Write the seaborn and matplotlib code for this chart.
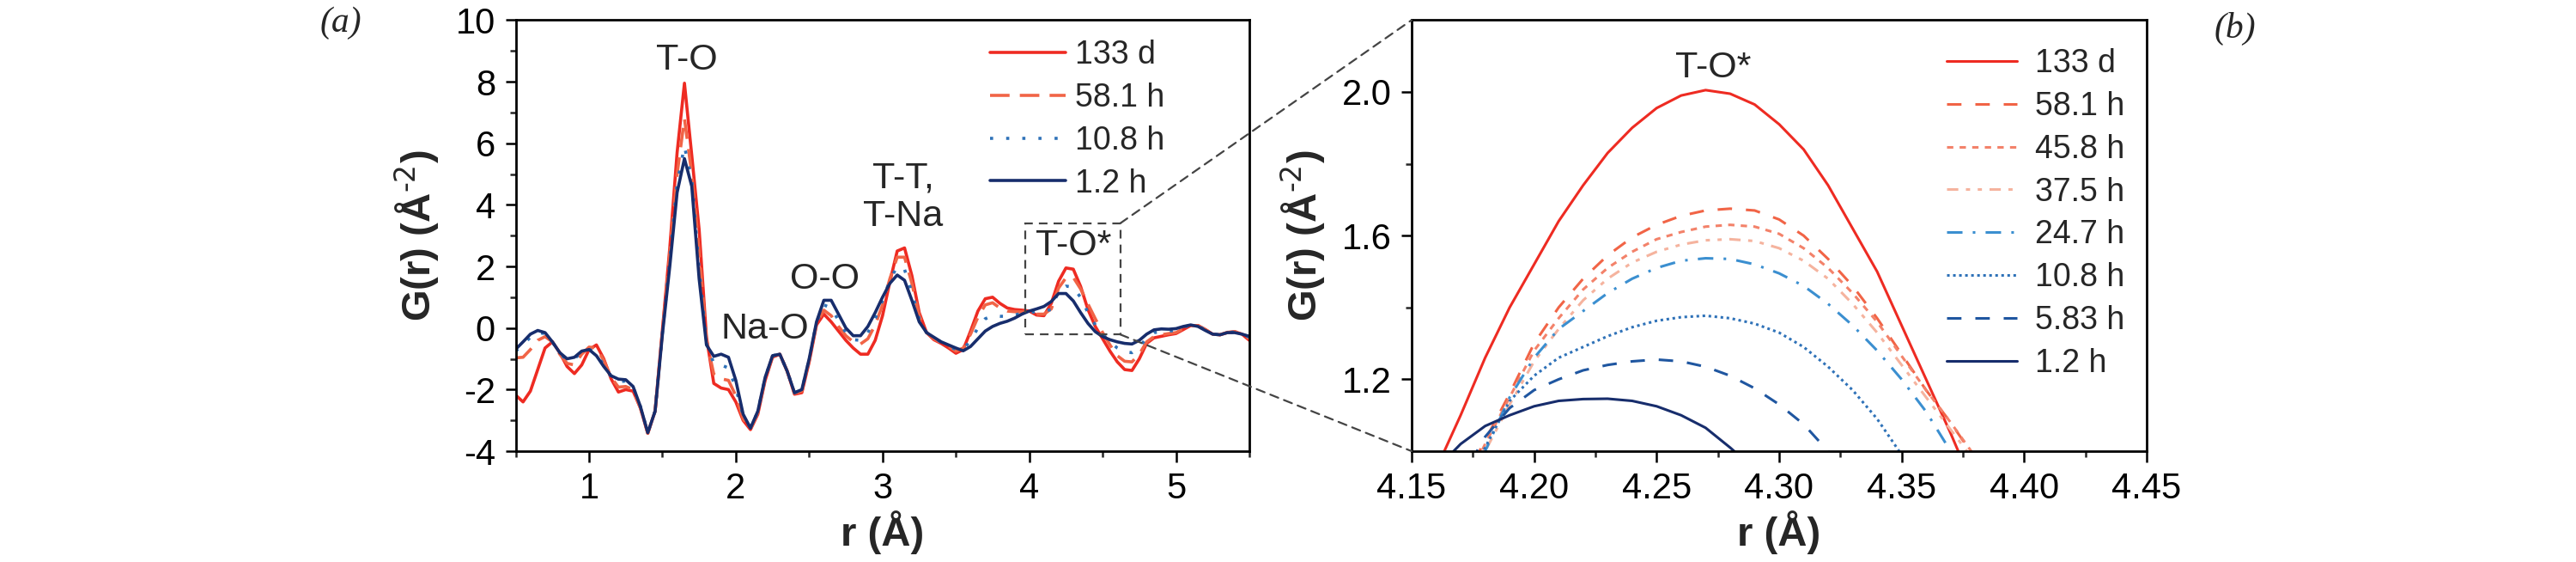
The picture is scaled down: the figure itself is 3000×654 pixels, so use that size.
import numpy as np
import pandas as pd
import matplotlib
matplotlib.use("Agg")
import matplotlib.pyplot as plt
from matplotlib.patches import Rectangle, ConnectionPatch
from matplotlib.ticker import FixedLocator
import seaborn as sns

# ---- panel (a): full PDF ----
r_full = np.round(np.arange(0.5, 5.5001, 0.05), 2)

g_133d = [-2.18, -2.40, -2.05, -1.35, -0.65, -0.45, -0.80, -1.25, -1.48, -1.20,
          -0.70, -0.55, -1.00, -1.65, -2.08, -2.00, -2.05, -2.60, -3.42, -2.70,
          -0.05, 2.60, 5.70, 7.95, 5.60, 3.20, -0.30, -1.80, -1.95, -2.00,
          -2.40, -3.00, -3.30, -2.80, -1.70, -0.95, -0.85, -1.40, -2.15, -2.10,
          -1.10, 0.10, 0.45, 0.20, -0.10, -0.40, -0.65, -0.85, -0.85, -0.40,
          0.40, 1.50, 2.50, 2.60, 1.70, 0.50, -0.15, -0.38, -0.50, -0.65,
          -0.82, -0.70, -0.10, 0.55, 0.95, 1.00, 0.80, 0.65, 0.60, 0.58,
          0.55, 0.42, 0.40, 0.80, 1.52, 1.95, 1.91, 1.35, 0.60, 0.05,
          -0.35, -0.75, -1.10, -1.35, -1.38, -1.00, -0.50, -0.32, -0.27, -0.22,
          -0.18, -0.05, 0.08, 0.08, -0.05, -0.20, -0.22, -0.15, -0.12, -0.20,
          -0.40]

g_58h = [-0.97, -0.95, -0.70, -0.40, -0.28, -0.45, -0.85, -1.15, -1.20, -0.85,
         -0.62, -0.65, -1.05, -1.60, -1.92, -1.90, -2.00, -2.60, -3.42, -2.70,
         -0.10, 2.40, 5.00, 6.80, 5.00, 2.50, -0.40, -1.50, -1.65, -1.70,
         -2.20, -2.95, -3.28, -2.75, -1.65, -0.92, -0.85, -1.40, -2.12, -2.05,
         -1.05, 0.15, 0.58, 0.40, 0.05, -0.25, -0.45, -0.52, -0.35, 0.10,
         0.75, 1.60, 2.30, 2.30, 1.45, 0.40, -0.15, -0.35, -0.48, -0.60,
         -0.75, -0.65, -0.20, 0.35, 0.75, 0.82, 0.65, 0.55, 0.53, 0.52,
         0.52, 0.45, 0.45, 0.62, 1.30, 1.63, 1.645, 1.27, 0.78, 0.30,
         -0.15, -0.55, -0.90, -1.08, -1.10, -0.85, -0.45, -0.28, -0.22, -0.18,
         -0.15, -0.02, 0.08, 0.08, -0.05, -0.20, -0.22, -0.14, -0.12, -0.18,
         -0.35]

g_10h = [-0.75, -0.55, -0.30, -0.15, -0.18, -0.45, -0.82, -1.05, -1.00, -0.78,
         -0.68, -0.85, -1.20, -1.58, -1.75, -1.72, -1.92, -2.55, -3.40, -2.70,
         -0.15, 2.20, 4.70, 5.90, 4.80, 1.90, -0.50, -1.15, -1.20, -1.30,
         -1.95, -2.85, -3.25, -2.72, -1.62, -0.90, -0.85, -1.40, -2.10, -2.02,
         -1.02, 0.18, 0.75, 0.65, 0.25, -0.15, -0.38, -0.40, -0.15, 0.30,
         0.90, 1.55, 2.00, 1.90, 1.15, 0.30, -0.15, -0.32, -0.46, -0.58,
         -0.70, -0.70, -0.40, 0.00, 0.30, 0.40, 0.38, 0.38, 0.42, 0.48,
         0.52, 0.52, 0.55, 0.60, 1.21, 1.36, 1.33, 0.99, 0.50, 0.10,
         -0.20, -0.45, -0.65, -0.78, -0.80, -0.62, -0.32, -0.15, -0.12, -0.10,
         -0.08, 0.02, 0.10, 0.06, -0.06, -0.20, -0.22, -0.15, -0.13, -0.19,
         -0.30]

g_1h = [-0.69, -0.45, -0.20, -0.08, -0.15, -0.45, -0.80, -1.00, -0.95, -0.75,
        -0.70, -0.90, -1.25, -1.55, -1.66, -1.68, -1.90, -2.55, -3.40, -2.70,
        -0.20, 2.00, 4.40, 5.50, 4.60, 1.60, -0.55, -0.92, -0.85, -0.95,
        -1.70, -2.80, -3.25, -2.70, -1.60, -0.90, -0.85, -1.40, -2.10, -2.00,
        -1.00, 0.20, 0.90, 0.90, 0.45, 0.00, -0.25, -0.25, 0.05, 0.50,
        1.00, 1.45, 1.72, 1.55, 0.90, 0.20, -0.15, -0.30, -0.45, -0.55,
        -0.65, -0.74, -0.60, -0.35, -0.10, 0.05, 0.15, 0.22, 0.32, 0.45,
        0.55, 0.62, 0.70, 0.86, 1.12, 1.12, 0.88, 0.50, 0.15, -0.12,
        -0.28, -0.38, -0.45, -0.50, -0.52, -0.40, -0.20, -0.06, -0.03, -0.04,
        -0.02, 0.05, 0.10, 0.05, -0.08, -0.20, -0.22, -0.15, -0.15, -0.20,
        -0.27]

labels_a = ["133 d", "58.1 h", "10.8 h", "1.2 h"]

# ---- panel (b): zoom on the T-O* peak ----
r_zoom = np.round(np.arange(4.15, 4.4501, 0.01), 2)

z_133d = [0.80, 0.95, 1.10, 1.26, 1.40, 1.52, 1.64, 1.74, 1.83, 1.90, 1.955,
          1.99, 2.005, 1.995, 1.965, 1.91, 1.84, 1.74, 1.62, 1.50, 1.35,
          1.20, 1.05, 0.89, 0.74, 0.60, 0.47, 0.35, 0.24, 0.14, 0.05]
z_58h = [0.62, 0.76, 0.90, 1.03, 1.16, 1.30, 1.40, 1.48, 1.545, 1.595, 1.63,
         1.655, 1.67, 1.675, 1.67, 1.645, 1.60, 1.535, 1.46, 1.37, 1.27,
         1.17, 1.08, 0.98, 0.88, 0.78, 0.68, 0.58, 0.49, 0.40, 0.32]
z_45h = [0.60, 0.74, 0.88, 1.02, 1.15, 1.28, 1.37, 1.45, 1.51, 1.555, 1.59,
         1.61, 1.625, 1.63, 1.625, 1.605, 1.565, 1.51, 1.44, 1.36, 1.265,
         1.17, 1.08, 0.985, 0.89, 0.79, 0.69, 0.60, 0.51, 0.42, 0.34]
z_37h = [0.58, 0.72, 0.86, 1.00, 1.13, 1.25, 1.34, 1.42, 1.48, 1.525, 1.555,
         1.575, 1.587, 1.59, 1.585, 1.565, 1.53, 1.48, 1.41, 1.33, 1.24,
         1.15, 1.06, 0.97, 0.87, 0.77, 0.67, 0.58, 0.49, 0.40, 0.32]
z_24h = [0.55, 0.70, 0.85, 1.00, 1.15, 1.26, 1.34, 1.39, 1.44, 1.48, 1.51,
         1.53, 1.537, 1.535, 1.52, 1.495, 1.46, 1.41, 1.35, 1.28, 1.20,
         1.11, 1.00, 0.89, 0.78, 0.67, 0.57, 0.47, 0.38, 0.30, 0.22]
z_10h = [0.60, 0.74, 0.88, 1.01, 1.14, 1.21, 1.26, 1.29, 1.32, 1.345, 1.363,
         1.373, 1.377, 1.37, 1.355, 1.33, 1.29, 1.235, 1.17, 1.09, 0.99,
         0.89, 0.79, 0.69, 0.59, 0.50, 0.41, 0.33, 0.26, 0.19, 0.13]
z_5h = [0.65, 0.79, 0.92, 1.04, 1.12, 1.17, 1.20, 1.225, 1.24, 1.25, 1.255,
        1.25, 1.235, 1.21, 1.175, 1.13, 1.075, 1.00, 0.92, 0.84, 0.76,
        0.68, 0.60, 0.52, 0.45, 0.38, 0.31, 0.25, 0.19, 0.14, 0.09]
z_1h = [0.86, 0.95, 1.02, 1.07, 1.10, 1.125, 1.14, 1.145, 1.146, 1.14, 1.125,
        1.10, 1.065, 1.01, 0.95, 0.88, 0.81, 0.73, 0.65, 0.57, 0.50,
        0.42, 0.35, 0.28, 0.21, 0.15, 0.09, 0.04, -0.01, -0.05, -0.09]

labels_b = ["133 d", "58.1 h", "45.8 h", "37.5 h", "24.7 h", "10.8 h", "5.83 h", "1.2 h"]

# zoom box drawn on panel (a)
box_r = (3.97, 4.62)
box_g = (-0.21, 3.40)

# ---- styles ----
palette = {
    "133 d": "#ee2b22",
    "58.1 h": "#f16446",
    "45.8 h": "#f3826a",
    "37.5 h": "#f5b39e",
    "24.7 h": "#3b8fd0",
    "10.8 h": "#2f72b8",
    "5.83 h": "#1f56a0",
    "1.2 h": "#172d6c",
}
dashes_a = {
    "133 d": "",
    "58.1 h": (6.3, 3.3),
    "10.8 h": (1, 4.2),
    "1.2 h": "",
}
dashes_b = {
    "133 d": "",
    "58.1 h": (5.5, 5.3),
    "45.8 h": (2.4, 2.4),
    "37.5 h": (4.3, 2.9, 1.6, 2.9, 1.6, 2.9),
    "24.7 h": (5.9, 3.9, 1.0, 3.9),
    "10.8 h": (1.0, 1.3),
    "5.83 h": (5.5, 5.3),
    "1.2 h": "",
}

sns.set_theme(style="ticks")
plt.rcParams["font.family"] = ["Liberation Sans", "DejaVu Sans"]
plt.rcParams["mathtext.default"] = "regular"
plt.rcParams["axes.unicode_minus"] = False

fig = plt.figure(figsize=(15, 3.27), dpi=200)
ax1 = fig.add_axes([0.2002, 0.1972, 0.2848, 0.7671])
ax2 = fig.add_axes([0.548, 0.1972, 0.2853, 0.7671])

df_a = pd.DataFrame({
    "r": np.tile(r_full, 4),
    "G": np.concatenate([g_133d, g_58h, g_10h, g_1h]),
    "sample": np.repeat(labels_a, len(r_full)),
})
df_b = pd.DataFrame({
    "r": np.tile(r_zoom, 8),
    "G": np.concatenate([z_133d, z_58h, z_45h, z_37h, z_24h, z_10h, z_5h, z_1h]),
    "sample": np.repeat(labels_b, len(r_zoom)),
})

sns.lineplot(data=df_a, x="r", y="G", hue="sample", style="sample",
             hue_order=labels_a, style_order=labels_a,
             palette={k: palette[k] for k in labels_a}, dashes=dashes_a,
             estimator=None, sort=False, linewidth=1.3, ax=ax1)
sns.lineplot(data=df_b, x="r", y="G", hue="sample", style="sample",
             hue_order=labels_b, style_order=labels_b,
             palette=palette, dashes=dashes_b,
             estimator=None, sort=False, linewidth=1.1, ax=ax2)

legend_opts = [
    (ax1, (0.646, 0.955), 2.35, 0.3),
    (ax2, (0.7275, 0.935), 2.2, 0.55),
]
for ax, anchor, hlen, tpad in legend_opts:
    leg = ax.get_legend()
    handles = leg.legend_handles
    labels = [t.get_text() for t in leg.get_texts()]
    leg.remove()
    ax.legend(handles, labels, loc="upper left", bbox_to_anchor=anchor,
              frameon=False, borderaxespad=0, borderpad=0, fontsize=13.5,
              handlelength=hlen, handletextpad=tpad, labelspacing=0.37)

# axes limits and ticks
ax1.set_xlim(0.5, 5.5)
ax1.set_ylim(-4, 10)
ax1.xaxis.set_major_locator(FixedLocator([1, 2, 3, 4, 5]))
ax1.xaxis.set_minor_locator(FixedLocator([0.5, 1.5, 2.5, 3.5, 4.5, 5.5]))
ax1.yaxis.set_major_locator(FixedLocator(np.arange(-4, 11, 2)))
ax1.yaxis.set_minor_locator(FixedLocator(np.arange(-3, 10, 2)))

ax2.set_xlim(4.15, 4.45)
ax2.set_ylim(1.0, 2.2)
ax2.xaxis.set_major_locator(FixedLocator(np.round(np.arange(4.15, 4.4501, 0.05), 2)))
ax2.xaxis.set_minor_locator(FixedLocator(np.round(np.arange(4.175, 4.45, 0.05), 3)))
ax2.yaxis.set_major_locator(FixedLocator([1.2, 1.6, 2.0]))
ax2.yaxis.set_minor_locator(FixedLocator([1.4, 1.8]))
ax2.xaxis.set_major_formatter(plt.FormatStrFormatter("%.2f"))
ax2.yaxis.set_major_formatter(plt.FormatStrFormatter("%.1f"))

for ax in (ax1, ax2):
    for s in ax.spines.values():
        s.set_linewidth(1.0)
        s.set_color("black")
    ax.tick_params(which="major", direction="out", length=4.5, width=0.9,
                   labelsize=15, pad=4, colors="black")
    ax.tick_params(which="minor", direction="out", length=2.6, width=0.9)
    ax.set_xlabel("r (Å)", fontsize=17, fontweight="bold", labelpad=2)
    ax.set_ylabel(r"G(r) (Å$^{\text{-2}}$)", fontsize=17, fontweight="bold", labelpad=6)

# peak annotations
ax1.text(1.664, 8.69, "T-O", ha="center", va="center", fontsize=15.5)
ax1.text(2.20, -0.04, "Na-O", ha="center", va="center", fontsize=15.5)
ax1.text(2.605, 1.585, "O-O", ha="center", va="center", fontsize=15.5)
ax1.text(3.14, 4.25, "T-T,\nT-Na", ha="center", va="center", fontsize=15.5,
         linespacing=1.15)
ax1.text(4.30, 2.68, "T-O*", ha="center", va="center", fontsize=15.5)
ax2.text(4.273, 2.067, "T-O*", ha="center", va="center", fontsize=15.5)

# zoom box and connectors
ax1.add_patch(Rectangle((box_r[0], box_g[0]), box_r[1] - box_r[0], box_g[1] - box_g[0],
                        fill=False, edgecolor="#444444", linewidth=0.8,
                        linestyle=(0, (4.5, 3.2)), zorder=5))
for yb, ya in [(box_g[1], 1), (box_g[0], 0)]:
    con = ConnectionPatch(xyA=(box_r[1], yb), coordsA=ax1.transData,
                          xyB=(0, ya), coordsB=ax2.transAxes,
                          color="#444444", linewidth=0.8, linestyle=(0, (4.5, 3.2)))
    fig.add_artist(con)

fig.text(0.1322, 0.959, "(a)", ha="center", va="center", fontsize=15,
         family=["Liberation Serif", "DejaVu Serif"], style="italic")
fig.text(0.8677, 0.9495, "(b)", ha="center", va="center", fontsize=15,
         family=["Liberation Serif", "DejaVu Serif"], style="italic")

fig.savefig("out.png", dpi=200, facecolor="white")
